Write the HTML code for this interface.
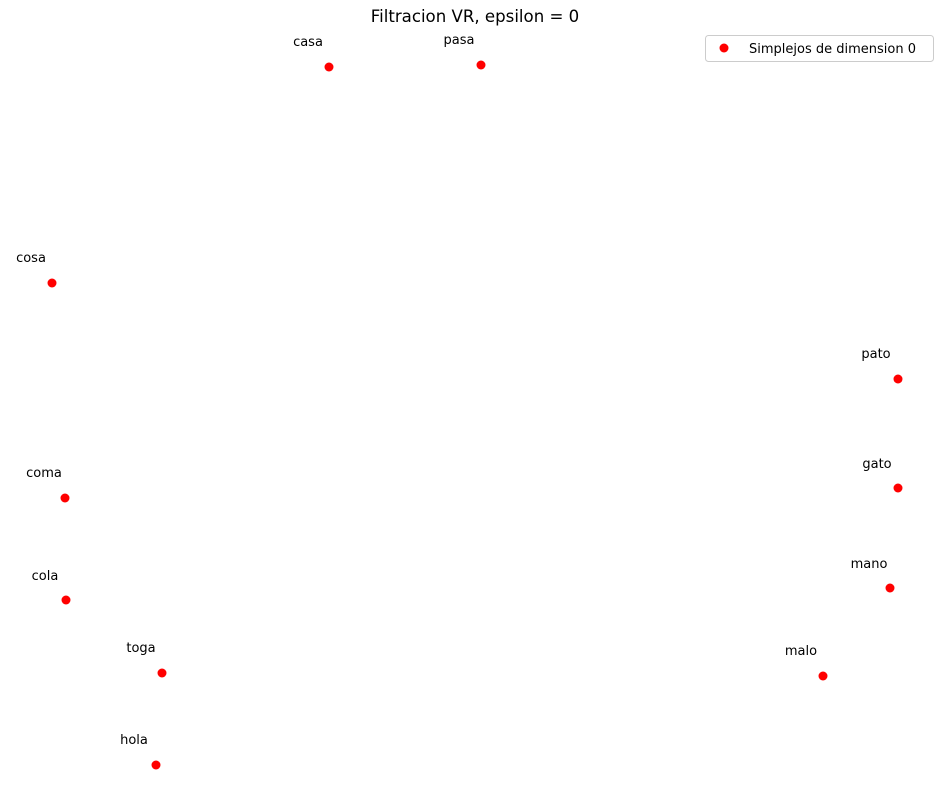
<!DOCTYPE html>
<html><head><meta charset="utf-8"><style>
html,body{margin:0;padding:0;background:#fff;}
svg{display:block;}
text{font-family:"DejaVu Sans","Liberation Sans",sans-serif;font-size:13px;fill:#000;}
</style></head><body>
<svg width="950" height="810" viewBox="0 0 950 810" xmlns="http://www.w3.org/2000/svg">
<text x="475" y="22" text-anchor="middle" style="font-size:16.6px">Filtracion VR, epsilon = 0</text>
<g fill="#ff0000">
<circle cx="329" cy="67" r="4.5"/>
<circle cx="481" cy="65" r="4.5"/>
<circle cx="52" cy="283" r="4.5"/>
<circle cx="898" cy="379" r="4.5"/>
<circle cx="898" cy="488" r="4.5"/>
<circle cx="65" cy="498" r="4.5"/>
<circle cx="66" cy="600" r="4.5"/>
<circle cx="162" cy="673" r="4.5"/>
<circle cx="156" cy="765" r="4.5"/>
<circle cx="823" cy="676" r="4.5"/>
<circle cx="890" cy="588" r="4.5"/>
</g>
<g text-anchor="middle">
<text x="308" y="46">casa</text>
<text x="459" y="44">pasa</text>
<text x="31" y="262">cosa</text>
<text x="876" y="358">pato</text>
<text x="877" y="468">gato</text>
<text x="44" y="477">coma</text>
<text x="45" y="580">cola</text>
<text x="141" y="652">toga</text>
<text x="134" y="744">hola</text>
<text x="801" y="655">malo</text>
<text x="869" y="568">mano</text>
</g>
<rect x="705.5" y="35.5" width="228" height="26" rx="3" fill="#fff" stroke="#cccccc"/>
<circle cx="724" cy="48" r="4.5" fill="#ff0000"/>
<text x="749" y="53">Simplejos de dimension 0</text>
</svg>
</body></html>
